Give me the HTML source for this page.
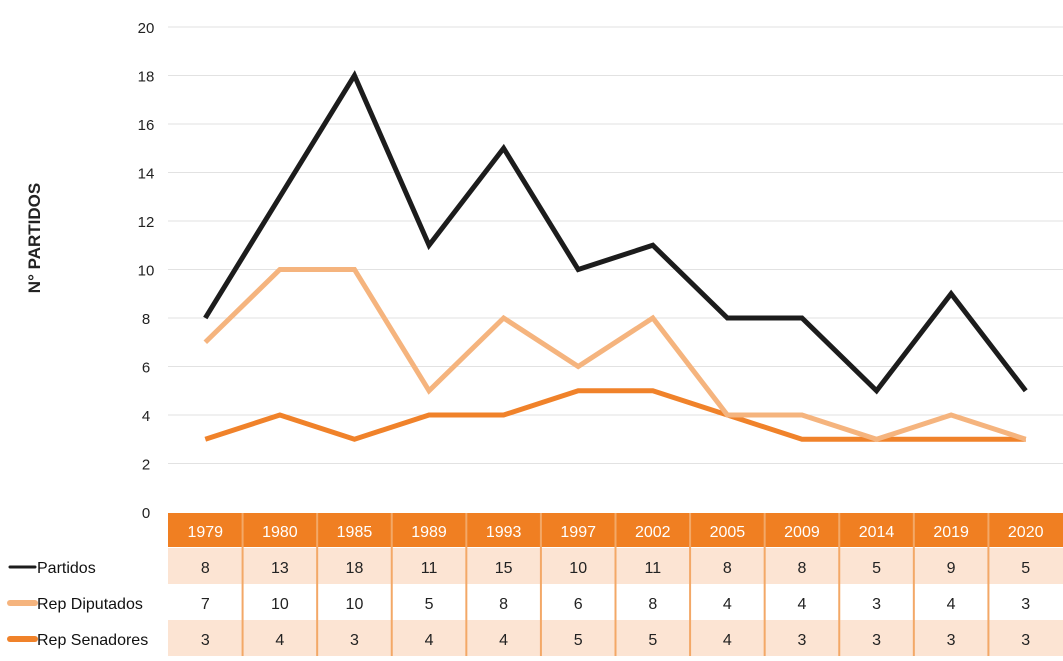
<!DOCTYPE html>
<html><head><meta charset="utf-8"><style>
body{margin:0;background:#fff;font-family:"Liberation Sans",sans-serif;}
svg text{font-family:"Liberation Sans",sans-serif;}
</style></head><body>
<svg width="1063" height="656" viewBox="0 0 1063 656">
<g id="grid"></g><g id="yticks"></g><g id="lines"></g><g id="table"></g>
<text x="0" y="0" transform="translate(40,238) rotate(-90)" text-anchor="middle" font-size="17" font-weight="bold" fill="#222">N° PARTIDOS</text>
</svg>
<script>
const years=["1979","1980","1985","1989","1993","1997","2002","2005","2009","2014","2019","2020"];
const partidos=[8,13,18,11,15,10,11,8,8,5,9,5];
const diputados=[7,10,10,5,8,6,8,4,4,3,4,3];
const senadores=[3,4,3,4,4,5,5,4,3,3,3,3];
const yTicks=[0,2,4,6,8,10,12,14,16,18,20];
const seriesNames=["Partidos","Rep Diputados","Rep Senadores"];
const NS="http://www.w3.org/2000/svg";
const x0=168,colW=(1063-168)/12;
const X=i=>x0+colW*(i+0.5);
const Y=v=>512-v*24.25;
function mk(t,a,p){const e=document.createElementNS(NS,t);for(const k in a)e.setAttribute(k,a[k]);p.appendChild(e);return e;}
const grid=document.getElementById('grid'),yt=document.getElementById('yticks');
yTicks.forEach(v=>{
 if(v>0){const l=mk('line',{x1:168,x2:1063,y1:Y(v),y2:Y(v),stroke:'#e2e2e2','stroke-width':1},grid);
 
 }
 const t=mk('text',{x:146,y:Y(v)+6,'text-anchor':'middle','font-size':15,fill:'#222'},yt);
 t.textContent=v;
 
 
});
const colors=['#1c1c1c','#f5b47e','#f0822a'];
const data=[partidos,diputados,senadores];
const lg=document.getElementById('lines');
[2,1,0].forEach(s=>{
 const p=mk('polyline',{points:data[s].map((v,i)=>X(i)+','+Y(v)).join(' '),fill:'none',stroke:colors[s],'stroke-width':5,'stroke-linejoin':'miter'},lg);
 
 
});
const tb=document.getElementById('table');
const rowY=[513,548,584,620],rowH=[34,36,36,36];
let r=mk('rect',{x:168,y:513,width:895,height:34,fill:'#f07f22'},tb);


[1,3].forEach(k=>{const b=mk('rect',{x:168,y:rowY[k],width:895,height:rowH[k],fill:'#fce4d3'},tb);
 
 });
for(let i=1;i<12;i++){const l=mk('line',{x1:x0+colW*i,x2:x0+colW*i,y1:513,y2:656,stroke:'#f3a867','stroke-width':2},tb);
 
 }
years.forEach((y,i)=>{const t=mk('text',{x:X(i),y:537,'text-anchor':'middle','font-size':16,fill:'#fff'},tb);
 t.textContent=y;
 
 });
data.forEach((arr,s)=>{
 const cy=rowY[s+1]+25;
 const ll=mk('line',{x1:10,x2:35,y1:cy-6,y2:cy-6,stroke:colors[s],'stroke-width':s==0?3:6,'stroke-linecap':'round'},tb);
 
 
 const lt=mk('text',{x:37,y:cy,'font-size':16,fill:'#111'},tb);
 lt.textContent=seriesNames[s];
 
 
 arr.forEach((v,i)=>{const t=mk('text',{x:X(i),y:cy,'text-anchor':'middle','font-size':16,fill:'#222'},tb);
  t.textContent=v;
  
  });
});
</script>
</body></html>
